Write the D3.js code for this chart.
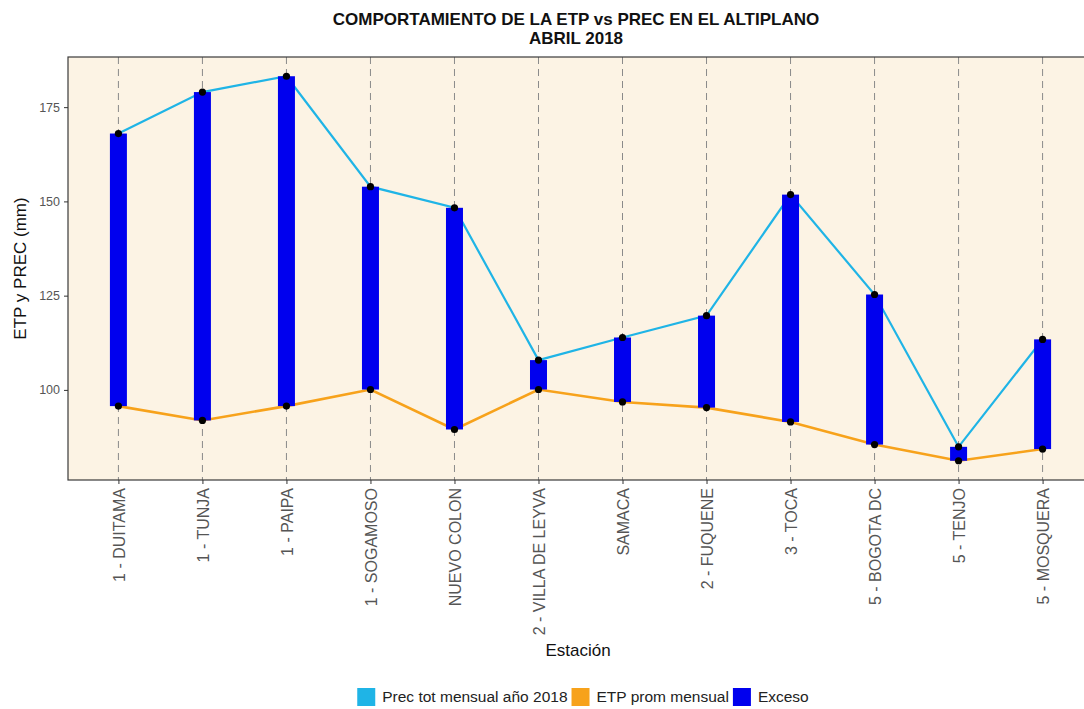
<!DOCTYPE html>
<html>
<head>
<meta charset="utf-8">
<script src="https://cdn.jsdelivr.net/npm/d3@7"></script>
<style>
  html, body { margin: 0; padding: 0; background: #ffffff; }
  svg { display: block; font-family: "Liberation Sans", Arial, sans-serif; }
</style>
</head>
<body>
<svg id="chart" width="1084" height="709"></svg>
<script>
// ---- data ----
const estaciones = ["1 - DUITAMA", "1 - TUNJA", "1 - PAIPA", "1 - SOGAMOSO", "NUEVO COLON",
  "2 - VILLA DE LEYVA", "SAMACA", "2 - FUQUENE", "3 - TOCA", "5 - BOGOTA DC", "5 - TENJO", "5 - MOSQUERA"];
const prec = [168.0, 179.0, 183.2, 153.9, 148.3, 107.9, 113.9, 119.7, 151.8, 125.3, 84.9, 113.4];
const etp  = [95.7, 91.9, 95.7, 100.1, 89.5, 100.1, 96.8, 95.3, 91.5, 85.5, 81.2, 84.3];
const yTicks = [100, 125, 150, 175];
const titleLines = ["COMPORTAMIENTO DE LA ETP vs PREC EN EL ALTIPLANO", "ABRIL 2018"];
const legendLabels = ["Prec tot mensual año 2018", "ETP prom mensual", "Exceso"];
const legendColors = ["#1fb4e6", "#f7a21b", "#0000ee"];

const rows = estaciones.map((e, i) => ({ e, p: prec[i], t: etp[i] }));

// ---- layout ----
const svg = d3.select("#chart");
const P = { left: 68, right: 1093, top: 57, bottom: 480 };

const allVals = prec.concat(etp);
const lo = d3.min(allVals), hi = d3.max(allVals), pad = (hi - lo) * 0.05;
const y = d3.scaleLinear().domain([lo - pad, hi + pad]).range([P.bottom, P.top]);
const x = d3.scalePoint().domain(estaciones).range([P.left, P.right]).padding(0.6);

// panel background
svg.append("rect").attr("x", P.left).attr("y", P.top)
  .attr("width", P.right - P.left).attr("height", P.bottom - P.top)
  .attr("fill", "#fcf3e4");

// vertical dashed gridlines
svg.append("g").selectAll("line").data(estaciones).join("line")
  .attr("x1", d => x(d)).attr("x2", d => x(d))
  .attr("y1", P.top).attr("y2", P.bottom)
  .attr("stroke", "#8a8a8a").attr("stroke-width", 1).attr("stroke-dasharray", "7,5");

// lines
const lineP = d3.line().x(d => x(d.e)).y(d => y(d.p));
const lineT = d3.line().x(d => x(d.e)).y(d => y(d.t));
svg.append("path").datum(rows).attr("d", lineP).attr("fill", "none")
  .attr("stroke", legendColors[0]).attr("stroke-width", 2.2);
svg.append("path").datum(rows).attr("d", lineT).attr("fill", "none")
  .attr("stroke", legendColors[1]).attr("stroke-width", 2.6);

// excess bars
const barW = 17;
svg.append("g").selectAll("rect").data(rows).join("rect")
  .attr("x", d => x(d.e) - barW / 2)
  .attr("y", d => y(Math.max(d.p, d.t)))
  .attr("width", barW)
  .attr("height", d => Math.abs(y(d.t) - y(d.p)))
  .attr("fill", legendColors[2]);

// points
const pts = svg.append("g");
pts.selectAll("circle.p").data(rows).join("circle").attr("class", "p")
  .attr("cx", d => x(d.e)).attr("cy", d => y(d.p)).attr("r", 3.6).attr("fill", "#000");
pts.selectAll("circle.t").data(rows).join("circle").attr("class", "t")
  .attr("cx", d => x(d.e)).attr("cy", d => y(d.t)).attr("r", 3.6).attr("fill", "#000");

// panel border
svg.append("rect").attr("x", P.left).attr("y", P.top)
  .attr("width", P.right - P.left).attr("height", P.bottom - P.top)
  .attr("fill", "none").attr("stroke", "#3a3a3a").attr("stroke-width", 1.2);

// y axis
const yAxis = svg.append("g").attr("transform", `translate(${P.left},0)`)
  .call(d3.axisLeft(y).tickValues(yTicks).tickSize(4).tickPadding(4));
yAxis.select(".domain").remove();
yAxis.selectAll(".tick line").attr("stroke", "#333");
yAxis.selectAll(".tick text").attr("fill", "#555").style("font-size", "12.5px")
  .style("font-family", "'Liberation Sans', Arial, sans-serif");

// x axis
const xAxis = svg.append("g").attr("transform", `translate(0,${P.bottom})`)
  .call(d3.axisBottom(x).tickSize(4).tickPadding(4));
xAxis.select(".domain").remove();
xAxis.selectAll(".tick line").attr("stroke", "#333");
xAxis.selectAll(".tick text").attr("fill", "#555").style("font-size", "16px")
  .style("font-family", "'Liberation Sans', Arial, sans-serif")
  .attr("transform", "rotate(-90)")
  .attr("text-anchor", "end")
  .attr("x", -8).attr("y", 0).attr("dy", "0.35em");

// titles
const t = svg.append("text").attr("x", 576).attr("text-anchor", "middle")
  .style("font-size", "17px").style("font-weight", "bold").attr("fill", "#111");
titleLines.forEach((s, i) => t.append("tspan").attr("x", 576).attr("y", 25 + i * 19).text(s));

svg.append("text").attr("x", 578).attr("y", 656).attr("text-anchor", "middle")
  .style("font-size", "17px").attr("fill", "#111").text("Estación");

svg.append("text").attr("transform", `translate(26,${(P.top + P.bottom) / 2}) rotate(-90)`)
  .attr("text-anchor", "middle").style("font-size", "17px").attr("fill", "#111")
  .text("ETP y PREC (mm)");

// legend
const lg = svg.append("g");
const keyS = 18, gapKT = 7, gapItems = 4, fs = 15.5;
let cx = 0;
legendLabels.forEach((lab, i) => {
  const g = lg.append("g");
  g.append("rect").attr("x", 0).attr("y", 0).attr("width", keyS).attr("height", keyS).attr("fill", legendColors[i]);
  const tx = g.append("text").attr("x", keyS + gapKT).attr("y", keyS / 2).attr("dy", "0.35em")
    .style("font-size", fs + "px").attr("fill", "#222").text(lab);
  const w = keyS + gapKT + tx.node().getComputedTextLength();
  g.attr("transform", `translate(${cx},0)`);
  cx += w + gapItems;
});
const totalW = cx - gapItems;
lg.attr("transform", `translate(${583 - totalW / 2},688)`);
</script>
</body>
</html>
